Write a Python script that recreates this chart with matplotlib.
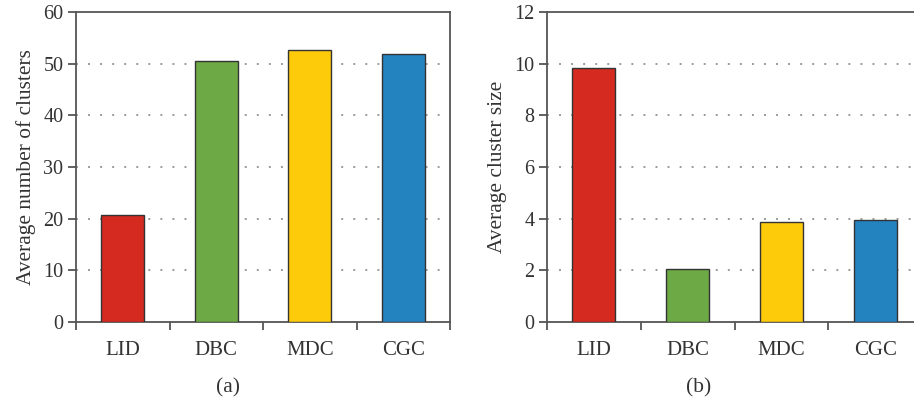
import numpy as np
import matplotlib
matplotlib.use("Agg")
import matplotlib.pyplot as plt

# --------------------------------------------------------------------------
# data
# --------------------------------------------------------------------------
methods = ["LID", "DBC", "MDC", "CGC"]
num_clusters = [20.8, 50.5, 52.7, 51.9]
cluster_size = [9.85, 2.05, 3.88, 3.95]
colors = ["#D42A20", "#6DA944", "#FDCB0A", "#2383BF"]

plt.rcParams["font.family"] = ["Liberation Serif", "DejaVu Serif"]
TXT = "#333333"
AX = "#555555"

W, H = 914, 405
fig = plt.figure(figsize=(W / 100, H / 100), dpi=100)


def panel(rect, values, ymax, step, ylabel, tag, tag_x):
    ax = fig.add_axes(rect)
    x = np.arange(len(methods))
    ax.bar(x, values, width=0.46, color=colors, edgecolor="#333333",
           linewidth=1.0, zorder=3)
    ax.set_xlim(-0.5, len(methods) - 0.5)
    ax.set_ylim(0, ymax)
    ax.set_yticks(np.arange(0, ymax + 0.01, step))
    ax.set_xticks(x)
    ax.set_xticklabels(methods, fontsize=15, color=TXT)
    ax.tick_params(axis="x", length=0, pad=14)
    ax.set_xticks(np.arange(-0.5, len(methods)), minor=True)
    ax.tick_params(axis="x", which="minor", length=6, width=1.3, color=AX,
                   direction="out")
    ax.tick_params(axis="y", length=6, width=1.3, color=AX, labelsize=14.5,
                   labelcolor=TXT, pad=3)
    for s in ax.spines.values():
        s.set_color(AX)
        s.set_linewidth(1.3)
    for yv in np.arange(step, ymax, step):
        ax.axhline(yv, color="#9a9a9a", lw=1.4, dashes=(1, 5.2), zorder=1)
    ax.set_ylabel(ylabel, fontsize=15.4, color=TXT, labelpad=5)
    fig.text(tag_x / W, 1 - 388 / H, tag, fontsize=15.5, color=TXT,
             ha="center", va="center")
    return ax


panel([76 / W, 1 - 322 / H, 374 / W, 310 / H], num_clusters, 60, 10,
      "Average number of clusters", "(a)", 228)
panel([547 / W, 1 - 322 / H, 375 / W, 310 / H], cluster_size, 12, 2,
      "Average cluster size", "(b)", 699)

fig.savefig("out.png", dpi=100)
